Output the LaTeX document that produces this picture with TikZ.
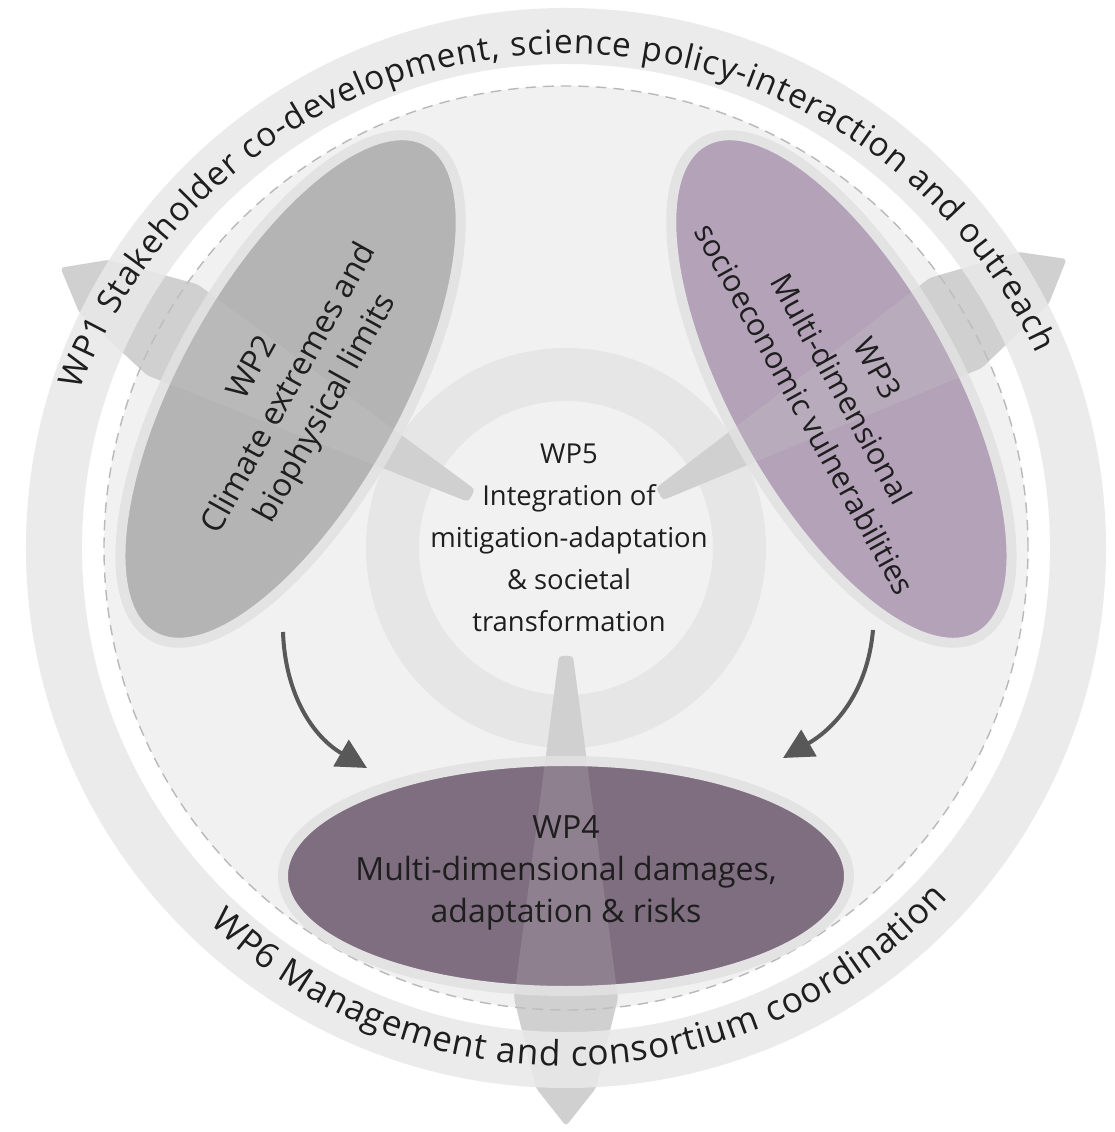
\documentclass[tikz,border=0pt]{standalone}
\usepackage{fontspec}
\setmainfont{Open Sans}
\usetikzlibrary{shapes.geometric,arrows.meta,decorations.text,positioning}

\definecolor{ringgray}{HTML}{EBEBEB}
\definecolor{innergray}{HTML}{F1F1F1}
\definecolor{halogray}{HTML}{E3E3E3}
\definecolor{coregray}{HTML}{E6E6E6}
\definecolor{flowgray}{HTML}{D0D0D0}
\definecolor{wpgray}{HTML}{B4B4B4}
\definecolor{wplilac}{HTML}{B3A2B8}
\definecolor{wpplum}{HTML}{7F6D80}
\definecolor{arrowdark}{HTML}{585858}
\definecolor{textdark}{HTML}{1E1E1E}

\newcommand{\topringfont}{\fontsize{9.5}{11}\selectfont}
\newcommand{\lowringfont}{\fontsize{10}{11}\selectfont}
\newcommand{\wpfont}{\fontsize{9.1}{11.9}\selectfont}
\newcommand{\corefont}{\fontsize{7.8}{11.9}\selectfont}

\tikzset{
    wpblob/.style={ellipse, draw=halogray, line width=1mm, minimum width=5.66cm,
        minimum height=2.3cm, inner sep=0pt},
    wptext/.style={align=center, text=textdark, font=\wpfont, inner sep=0pt},
    flow/.style={fill=flowgray, rounded corners=1pt},
    linkarrow/.style={draw=arrowdark, line width=0.04cm,
        -{Triangle[length=0.3cm, width=0.3cm]}},
}

\begin{document}
\begin{tikzpicture}
    \fill[white] (-5.66,-5.84) rectangle (5.49,5.48);
    \useasboundingbox (-5.66,-5.84) rectangle (5.49,5.48);

    % Inner disc and the WP5 band
    \fill[innergray] (0,0) circle (4.62);
    \fill[coregray, even odd rule] (0,0) circle (2.00) (0,0) circle (1.47);

    % Wide links between the work packages, the core and the outer ring
    \foreach \a in {151,30,270} {
        \fill[flow, rotate=\a] (1.08,-0.07) -- (4.5,-0.52) -- (5.4,-0.3) -- (5.78,0)
            -- (5.4,0.3) -- (4.5,0.52) -- (1.08,0.07) -- cycle;
    }

    % Outer ring (WP1 / WP6)
    \fill[ringgray, even odd rule] (0,0) circle (5.40) (0,0) circle (4.84);
    \draw[gray!55, line width=0.4pt, dash pattern=on 3pt off 2pt] (0,0) circle (4.62);

    % Work packages
    \node[wpblob, fill=wpgray, rotate=61] (wp2) at (150:3.18) {};
    \node[wpblob, fill=wplilac, rotate=-61] (wp3) at (30:3.18) {};
    \node[wpblob, fill=wpplum] (wp4) at (270:3.28) {};

    % Links seen through the ellipses
    \foreach \a in {151,30,270} {
        \fill[flow, fill opacity=0.2, rotate=\a] (1.08,-0.07) -- (4.5,-0.52) -- (5.4,-0.3)
            -- (5.78,0) -- (5.4,0.3) -- (4.5,0.52) -- (1.08,0.07) -- cycle;
    }

    \node[wptext, rotate=61] (wp2label) at (wp2)
        {WP2\\Climate extremes and\\biophysical limits};
    \node[wptext, font=\fontsize{8.7}{11.9}\selectfont, rotate=-61] (wp3label) at (wp3)
        {WP3\\Multi-dimensional\\socioeconomic vulnerabilities};
    \node[wptext] (wp4label) at (0,-3.25)
        {WP4\\Multi-dimensional damages,\\adaptation \& risks};
    \node[wptext, font=\corefont] (wp5) at (0.03,0.10)
        {WP5\\Integration of\\mitigation-adaptation\\\& societal\\transformation};

    % Ring labels
    \path[shift={(0,-0.25)}, decorate, decoration={text along path, text align=fit to path,
        text={|\topringfont\color{textdark}|WP1 Stakeholder co-development, science policy-interaction and outreach}}]
        (159.4:5.19) arc[start angle=159.4, end angle=25.1, radius=5.19];
    \path[decorate, decoration={text along path, text align=fit to path,
        text={|\lowringfont\color{textdark}|WP6 Management and consortium coordination}}]
        (226.5:5.18) arc[start angle=226.5, end angle=317.5, radius=5.18];

    % Flow from WP2 and WP3 into WP4
    \coordinate (wp2out) at (-2.83,-0.84);
    \coordinate (wp4inl) at (-1.99,-2.20);
    \coordinate (wp3out) at (3.07,-0.82);
    \coordinate (wp4inr) at (2.17,-2.10);
    \draw[linkarrow] (wp2out) to[out=-88, in=150] (wp4inl);
    \draw[linkarrow] (wp3out) to[out=-95, in=30] (wp4inr);
\end{tikzpicture}
\end{document}
